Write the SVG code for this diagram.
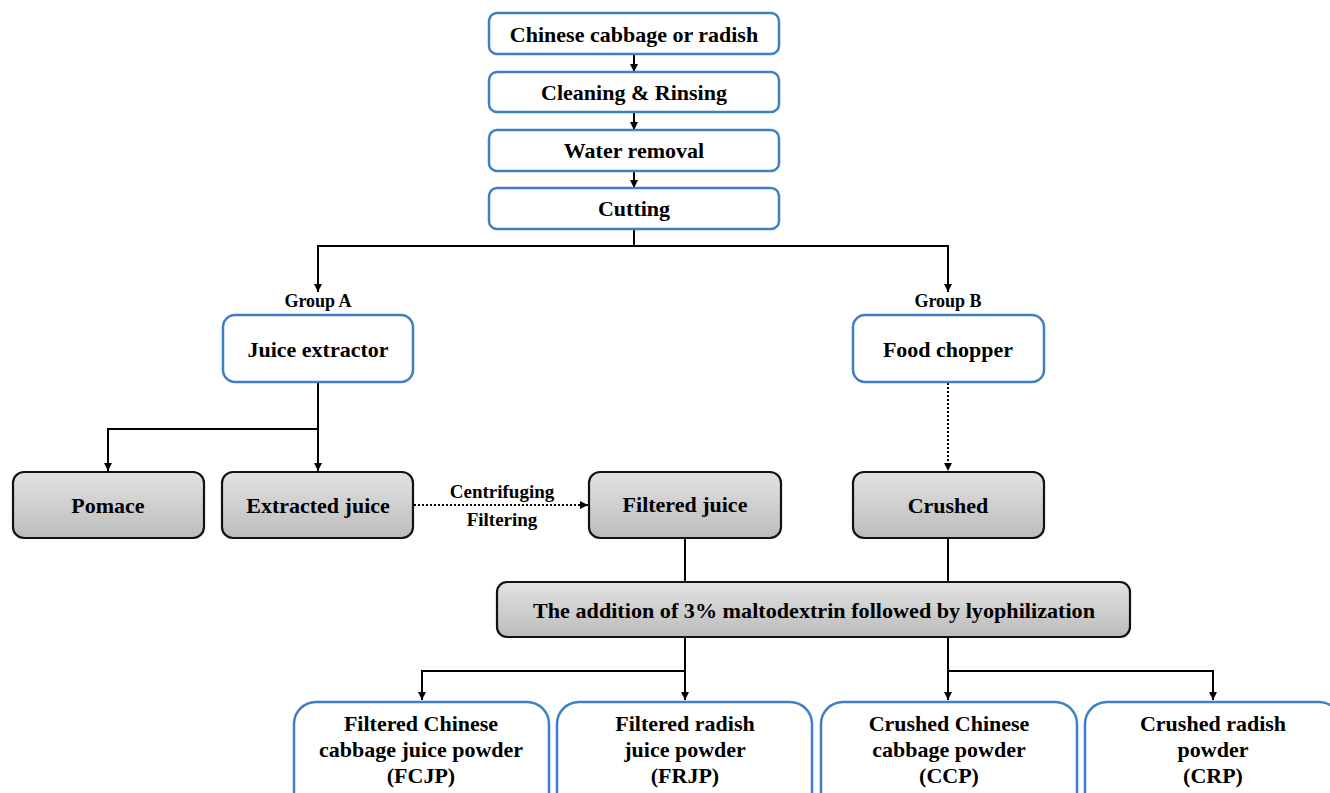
<svg xmlns="http://www.w3.org/2000/svg" width="1330" height="793" viewBox="0 0 1330 793">
<defs>
<linearGradient id="gray" x1="0" y1="0" x2="0" y2="1">
<stop offset="0" stop-color="#e2e2e2"/>
<stop offset="1" stop-color="#bcbcbc"/>
</linearGradient>
<marker id="arr" viewBox="0 0 10 10" refX="10" refY="5" markerWidth="8" markerHeight="8" markerUnits="userSpaceOnUse" orient="auto">
<path d="M0,0 L10,5 L0,10 z" fill="#000"/>
</marker>
</defs>
<style>
.blue{fill:#fff;stroke:#3f7fc6;stroke-width:2.5}
.gray{fill:url(#gray);stroke:#111;stroke-width:2.2}
.t{font-weight:bold;fill:#000;text-anchor:middle}
.m{font-size:22px}
.s{font-size:18px}
.f{font-size:19px}
.c{fill:none;stroke:#000;stroke-width:2}
.d{fill:none;stroke:#000;stroke-width:2;stroke-dasharray:2 2}
</style>
<rect width="1330" height="793" fill="#fff"/>
<g id="connectors">
<path class="c" d="M634,54 V72" marker-end="url(#arr)"/>
<path class="c" d="M634,112 V130" marker-end="url(#arr)"/>
<path class="c" d="M634,171 V188" marker-end="url(#arr)"/>
<path class="c" d="M634,229 V246"/>
<path class="c" d="M634,246 H318 V292" marker-end="url(#arr)"/>
<path class="c" d="M634,246 H948 V292" marker-end="url(#arr)"/>
<path class="c" d="M318,382 V471" marker-end="url(#arr)"/>
<path class="c" d="M318,429 H108 V471" marker-end="url(#arr)"/>
<path class="d" d="M414,505 H588" marker-end="url(#arr)"/>
<path class="d" d="M948,383 V471" marker-end="url(#arr)"/>
<path class="c" d="M685,538 V583"/>
<path class="c" d="M948,538 V583"/>
<path class="c" d="M685,637 V700" marker-end="url(#arr)"/>
<path class="c" d="M685,671 H422 V700" marker-end="url(#arr)"/>
<path class="c" d="M948,637 V700" marker-end="url(#arr)"/>
<path class="c" d="M948,671 H1213 V700" marker-end="url(#arr)"/>
</g>
<g font-family="Liberation Serif, Times New Roman, DejaVu Serif, serif">
<g id="n1"><rect class="blue" x="489" y="13" width="290" height="41" rx="8"/><text class="t m" x="634" y="42">Chinese cabbage or radish</text></g>
<g id="n2"><rect class="blue" x="489" y="72" width="290" height="40" rx="8"/><text class="t m" x="634" y="100">Cleaning &amp; Rinsing</text></g>
<g id="n3"><rect class="blue" x="489" y="130" width="290" height="41" rx="8"/><text class="t m" x="634" y="158">Water removal</text></g>
<g id="n4"><rect class="blue" x="489" y="188" width="290" height="41" rx="8"/><text class="t m" x="634" y="216">Cutting</text></g>
<g id="lblA"><text class="t s" x="318" y="307">Group A</text></g>
<g id="lblB"><text class="t s" x="948" y="307">Group B</text></g>
<g id="n5"><rect class="blue" x="223" y="315" width="190" height="67" rx="12"/><text class="t m" x="318" y="357">Juice extractor</text></g>
<g id="n6"><rect class="blue" x="853" y="315" width="191" height="67" rx="12"/><text class="t m" x="948" y="357">Food chopper</text></g>
<g id="n7"><rect class="gray" x="13" y="472" width="191" height="66" rx="11"/><text class="t m" x="108" y="513">Pomace</text></g>
<g id="n8"><rect class="gray" x="222" y="472" width="191" height="66" rx="11"/><text class="t m" x="318" y="513">Extracted juice</text></g>
<g id="lblC"><text class="t f" x="502" y="498">Centrifuging</text><text class="t f" x="502" y="526">Filtering</text></g>
<g id="n9"><rect class="gray" x="589" y="472" width="192" height="66" rx="11"/><text class="t m" x="685" y="512">Filtered juice</text></g>
<g id="n10"><rect class="gray" x="853" y="472" width="191" height="66" rx="11"/><text class="t m" x="948" y="513">Crushed</text></g>
<g id="n11"><rect class="gray" x="497" y="582" width="633" height="55" rx="10"/><text class="t m" x="814" y="618" textLength="562" lengthAdjust="spacingAndGlyphs">The addition of 3% maltodextrin followed by lyophilization</text></g>
<g id="n12"><rect class="blue" x="294" y="702" width="255" height="115" rx="22"/><text class="t m" x="421" y="731">Filtered Chinese</text><text class="t m" x="421" y="757">cabbage juice powder</text><text class="t m" x="421" y="783">(FCJP)</text></g>
<g id="n13"><rect class="blue" x="557" y="702" width="255" height="115" rx="22"/><text class="t m" x="685" y="731">Filtered radish</text><text class="t m" x="685" y="757">juice powder</text><text class="t m" x="685" y="783">(FRJP)</text></g>
<g id="n14"><rect class="blue" x="821" y="702" width="256" height="115" rx="22"/><text class="t m" x="949" y="731">Crushed Chinese</text><text class="t m" x="949" y="757">cabbage powder</text><text class="t m" x="949" y="783">(CCP)</text></g>
<g id="n15"><rect class="blue" x="1085" y="702" width="256" height="115" rx="22"/><text class="t m" x="1213" y="731">Crushed radish</text><text class="t m" x="1213" y="757">powder</text><text class="t m" x="1213" y="783">(CRP)</text></g>
</g>
</svg>
